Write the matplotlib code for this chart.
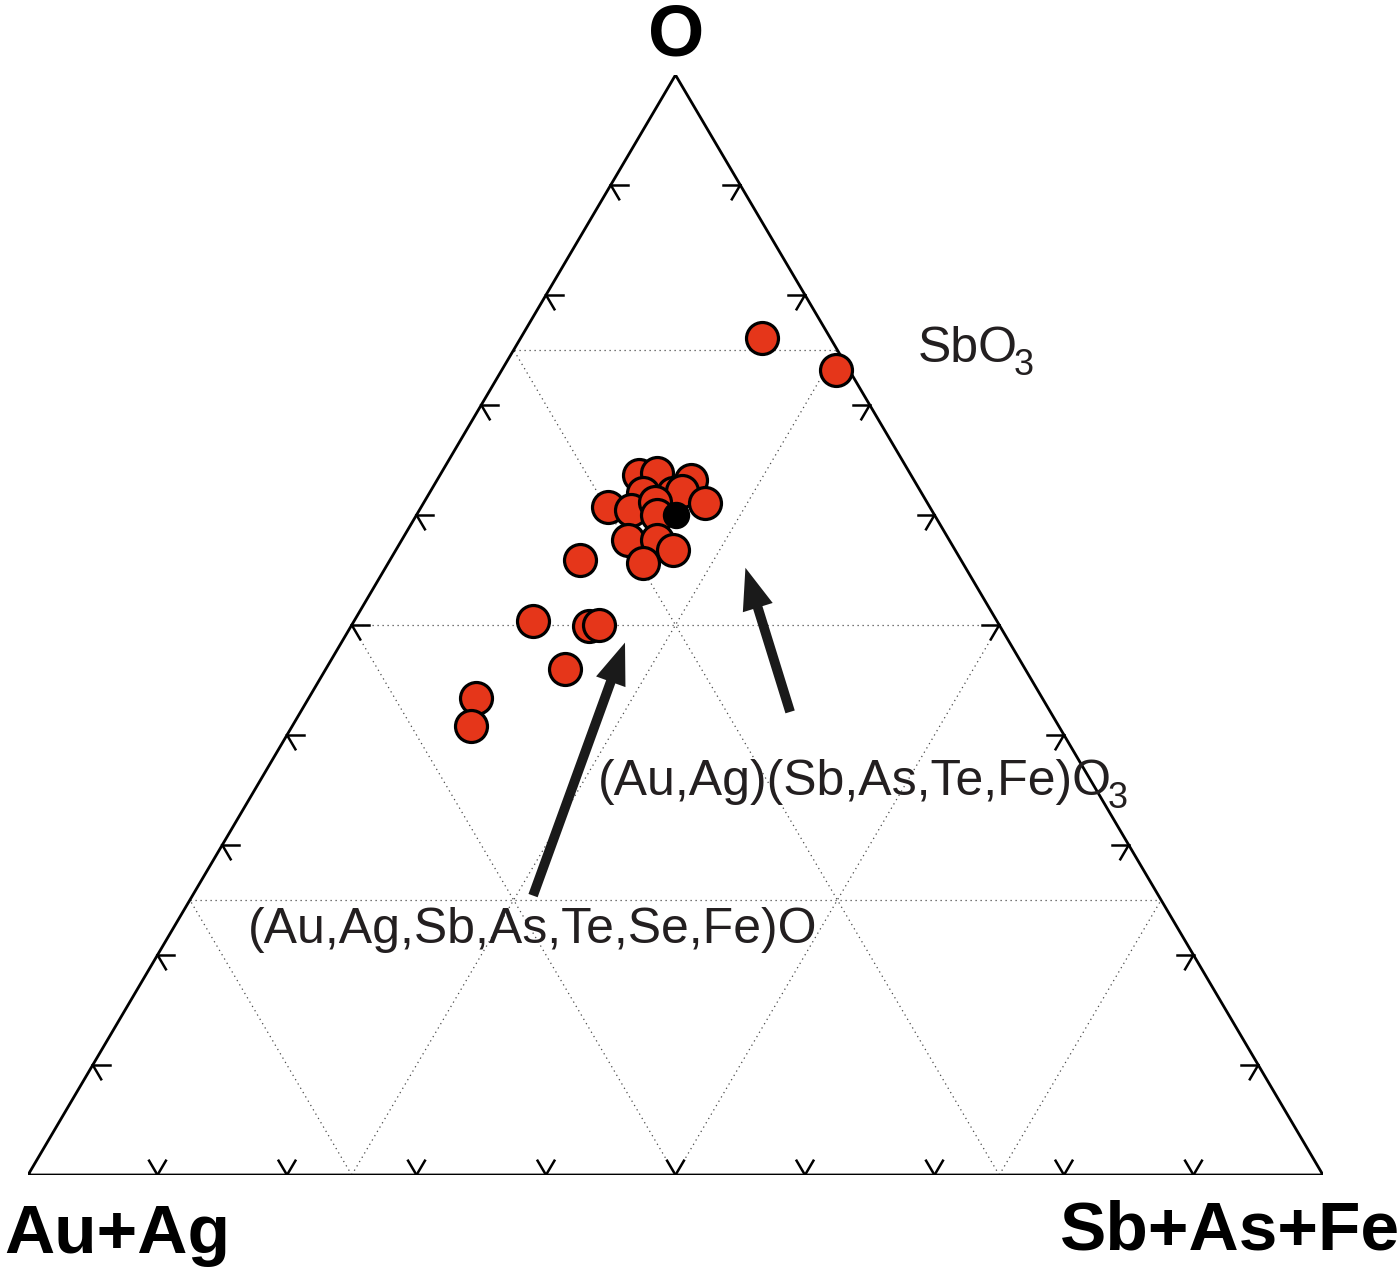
import numpy as np
import matplotlib
matplotlib.use("Agg")
import matplotlib.pyplot as plt
from matplotlib.patches import FancyArrowPatch

plt.rcParams['font.family'] = ['Liberation Sans', 'DejaVu Sans']

# molar fractions: Au+Ag (bottom left), Sb+As+Fe (bottom right), O (top)
au_ag = [0.053, 0.010, 0.210, 0.195, 0.172, 0.215, 0.192, 0.184,
         0.249, 0.232, 0.210, 0.214, 0.172, 0.248, 0.226, 0.218,
         0.247, 0.294, 0.358, 0.317, 0.309, 0.355, 0.437, 0.454]
sb_as_fe = [0.186, 0.258, 0.154, 0.167, 0.196, 0.165, 0.188, 0.194,
            0.144, 0.163, 0.178, 0.186, 0.217, 0.175, 0.197, 0.214,
            0.197, 0.147, 0.138, 0.184, 0.191, 0.185, 0.129, 0.138]
oxygen = [0.761, 0.732, 0.636, 0.638, 0.632, 0.620, 0.620, 0.622,
          0.607, 0.605, 0.612, 0.600, 0.611, 0.577, 0.577, 0.568,
          0.556, 0.559, 0.504, 0.499, 0.500, 0.460, 0.434, 0.408]

# ideal (Au,Ag)(Sb,As,Te,Fe)O3 composition
ideal = (0.20, 0.20, 0.60)

grid_levels = [0.25, 0.5, 0.75]
tick_levels = [0.1, 0.2, 0.3, 0.4, 0.5, 0.6, 0.7, 0.8, 0.9]
TICK = 0.013

RED = '#e5361a'
TEXT = '#231f20'


def to_xy(a, b, c):
    a, b, c = np.asarray(a), np.asarray(b), np.asarray(c)
    return b + c / 2, c


def seg(ax, p, q, **kw):
    x, y = to_xy(*zip(p, q))
    ax.plot(x, y, **kw)


def draw_frame(ax):
    corners = [(1, 0, 0), (0, 1, 0), (0, 0, 1), (1, 0, 0)]
    x, y = to_xy(*zip(*corners))
    ax.plot(x, y, color='black', lw=2.0, solid_joinstyle='miter', zorder=3)

    dot = dict(color='#4a4a4a', lw=0.9, ls=(0, (1, 3)), zorder=1)
    for g in grid_levels:
        seg(ax, (1 - g, 0, g), (0, 1 - g, g), **dot)   # constant O
        seg(ax, (g, 1 - g, 0), (g, 0, 1 - g), **dot)   # constant Au+Ag
        seg(ax, (1 - g, g, 0), (0, g, 1 - g), **dot)   # constant Sb+As+Fe

    tk = dict(color='black', lw=1.8, zorder=3)
    for t in tick_levels:
        # bottom edge
        p = (1 - t, t, 0)
        seg(ax, p, (p[0] - TICK, p[1], TICK), **tk)
        seg(ax, p, (p[0], p[1] - TICK, TICK), **tk)
        # left edge
        p = (1 - t, 0, t)
        seg(ax, p, (p[0] - TICK, TICK, p[2]), **tk)
        seg(ax, p, (p[0], TICK, p[2] - TICK), **tk)
        # right edge
        p = (0, 1 - t, t)
        seg(ax, p, (TICK, p[1] - TICK, p[2]), **tk)
        seg(ax, p, (TICK, p[1], p[2] - TICK), **tk)


def draw_arrow(ax, tail, head):
    arr = FancyArrowPatch(to_xy(*tail), to_xy(*head),
                          arrowstyle='simple,head_length=0.6,head_width=0.45,tail_width=0.14',
                          mutation_scale=50, color='#1a1a1a', lw=0,
                          shrinkA=0, shrinkB=0, zorder=4)
    ax.add_patch(arr)


def formula(ax, x, y, main, sub=None, size=36):
    t = ax.text(x, y, main, fontsize=size, color=TEXT, va='baseline')
    if sub:
        ax.annotate(sub, xy=(1, 0), xycoords=t, xytext=(-3, -2),
                    textcoords='offset points', fontsize=size * 0.72,
                    color=TEXT, va='baseline', ha='left')


fig = plt.figure(figsize=(14, 12.7), dpi=100)
ax = fig.add_axes([28 / 1400, 95 / 1270, 1295 / 1400, 1100 / 1270])
ax.set_xlim(0, 1)
ax.set_ylim(0, 1)
ax.axis('off')

draw_frame(ax)

x, y = to_xy(au_ag, sb_as_fe, oxygen)
ax.scatter(x, y, s=530, c=RED, edgecolors='black', linewidths=2.3,
           zorder=5, clip_on=False)
ix, iy = to_xy(*ideal)
ax.scatter([ix], [iy], s=350, c='black', edgecolors='black', zorder=6)

draw_arrow(ax, (0.483, 0.263, 0.254), (0.297, 0.219, 0.484))
draw_arrow(ax, (0.201, 0.378, 0.421), (0.170, 0.278, 0.552))

formula(ax, 0.687, 0.739, 'SbO', '3')
formula(ax, 0.440, 0.3455, '(Au,Ag)(Sb,As,Te,Fe)O', '3')
formula(ax, 0.170, 0.211, '(Au,Ag,Sb,As,Te,Se,Fe)O')

ax.text(0.5004, 1.018, 'O', fontsize=52, fontweight='bold',
        ha='center', va='baseline')
ax.text(-0.018, -0.071, 'Au+Ag', fontsize=50, fontweight='bold',
        ha='left', va='baseline')
ax.text(1.0595, -0.068, 'Sb+As+Fe', fontsize=50, fontweight='bold',
        ha='right', va='baseline')

fig.savefig('out.png', dpi=100, facecolor='white')
